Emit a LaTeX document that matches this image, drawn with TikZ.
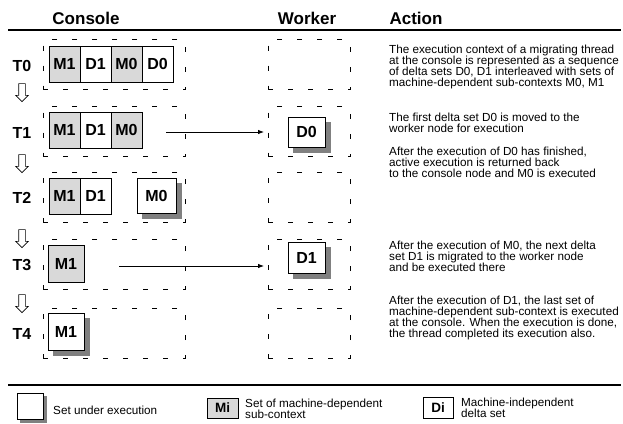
\documentclass[tikz,border=0pt]{standalone}
\usepackage{fontspec}
\setmainfont{Liberation Sans}
\usetikzlibrary{positioning,shapes.arrows,arrows.meta}

\definecolor{cellgray}{RGB}{217,217,217}
\definecolor{shadegray}{RGB}{128,128,128}

\tikzset{
  hostbox/.style={draw, dash pattern=on 5pt off 15pt, line width=0.8pt, minimum height=50, inner sep=0, outer sep=0},
  setbox/.style={draw, fill=white, line width=0.8pt, inner sep=0, outer sep=0, minimum width=31, minimum height=36, font=\fontsize{16}{18}\selectfont\bfseries},
  mdep/.style={setbox, fill=cellgray},
  running/.style={setbox},
  shadowbox/.style={fill=shadegray, draw=shadegray, inner sep=0, outer sep=0},
  tlabel/.style={font=\fontsize{16}{18}\selectfont\bfseries},
  header/.style={font=\fontsize{17}{19}\selectfont\bfseries},
  action/.style={anchor=west, align=left, inner sep=0, font=\fontsize{11.7}{11.1}\selectfont},
  nextstep/.style={single arrow, draw, line width=0.6pt, shape border rotate=270, minimum height=18, single arrow head extend=3pt, inner sep=3pt},
  migrate/.style={-{Latex[length=6pt,width=4.5pt]}, line width=0.8pt}
}

\begin{document}
\begin{tikzpicture}[x=1pt, y=-1pt]
  \useasboundingbox (0,0) rectangle (623,423);

  % Column headings
  \node[header] (hcon) at (86,18) {Console};
  \node[header] (hwrk) at (307,18) {Worker};
  \node[header, anchor=west] (hact) at (386,18) {Action};
  \draw[line width=1.6pt] (8,30) -- (621,30);

  % Console and worker places for each step
  \foreach \i/\y in {0/64.5,1/131.5,2/197,3/264,4/333} {
    \node[hostbox, minimum width=142] (con\i) at (114,\y) {};
    \node[hostbox, minimum width=82] (wrk\i) at (309,\y) {};
    \node[tlabel] (t\i) at (22,\y+1) {T\i};
  }
  \foreach \i/\y in {0/91,1/162,2/237,3/302}
    \node[nextstep] (n\i) at (22,\y) {};

  % T0
  \node[mdep] (m1a) at (64.5,64) {M1};
  \node[setbox, right=0pt of m1a] (d1a) {D1};
  \node[mdep, right=0pt of d1a] (m0a) {M0};
  \node[setbox, right=0pt of m0a] (d0a) {D0};

  % T1
  \node[mdep] (m1b) at (64.5,130) {M1};
  \node[setbox, right=0pt of m1b] (d1b) {D1};
  \node[mdep, right=0pt of d1b] (m0b) {M0};
  \node[shadowbox, minimum width=37, minimum height=30] (d0bs) at (311.5,137) {};
  \node[running, minimum width=37, minimum height=30] (d0b) at (306.5,132) {D0};
  \coordinate (gob) at (166,132);
  \draw[migrate, shorten >=4pt] (gob) -- (gob -| wrk1.west);

  % T2
  \node[mdep] (m1c) at (64.5,196) {M1};
  \node[setbox, right=0pt of m1c] (d1c) {D1};
  \node[shadowbox, minimum width=39, minimum height=35] (m0cs) at (161.5,200.5) {};
  \node[running, minimum width=39, minimum height=35] (m0c) at (156.5,195.5) {M0};

  % T3
  \node[mdep, minimum width=36, minimum height=37] (m1d) at (66,263.5) {M1};
  \node[shadowbox, minimum width=37, minimum height=31] (d1ds) at (311.5,262.5) {};
  \node[running, minimum width=37, minimum height=31] (d1d) at (306.5,257.5) {D1};
  \coordinate (god) at (119,266);
  \draw[migrate, shorten >=4pt] (god) -- (god -| wrk3.west);

  % T4
  \node[shadowbox, minimum width=36, minimum height=37] (m1es) at (71,336.5) {};
  \node[running, minimum width=36, minimum height=37] (m1e) at (66,331.5) {M1};

  % Actions
  \node[action] (a0) at (389,66.7) {The execution context of a migrating thread\\at the console is represented as a sequence\\of delta sets D0, D1 interleaved with sets of\\machine-dependent sub-contexts M0, M1};
  \node[action] (a1) at (389,122.5) {The first delta set D0 is moved to the\\worker node for execution};
  \node[action] (a2) at (389,162.5) {After the execution of D0 has finished,\\active execution is returned back\\to the console node and M0 is executed};
  \node[action] (a3) at (389,256.2) {After the execution of M0, the next delta\\set D1 is migrated to the worker node\\and be executed there};
  \node[action] (a4) at (389,318) {After the execution of D1, the last set of\\machine-dependent sub-context is executed\\at the console. When the execution is done,\\the thread completed its execution also.};

  % Legend
  \draw[line width=1.6pt] (8,385) -- (621,385);
  \node[shadowbox, minimum width=26, minimum height=26] (lgruns) at (33,409) {};
  \node[running, minimum width=26, minimum height=26] (lgrun) at (30,406) {};
  \node[action] (lgruntxt) at (53,410) {Set under execution};
  \node[mdep, minimum width=31, minimum height=20, font=\fontsize{13.5}{15}\selectfont\bfseries] (lgmi) at (222.5,408) {Mi};
  \node[action] (lgmitxt) at (245,409) {Set of machine-dependent\\sub-context};
  \node[setbox, minimum width=30, minimum height=21, font=\fontsize{13.5}{15}\selectfont\bfseries] (lgdi) at (438,407.5) {Di};
  \node[action] (lgditxt) at (461,408) {Machine-independent\\delta set};
\end{tikzpicture}
\end{document}
